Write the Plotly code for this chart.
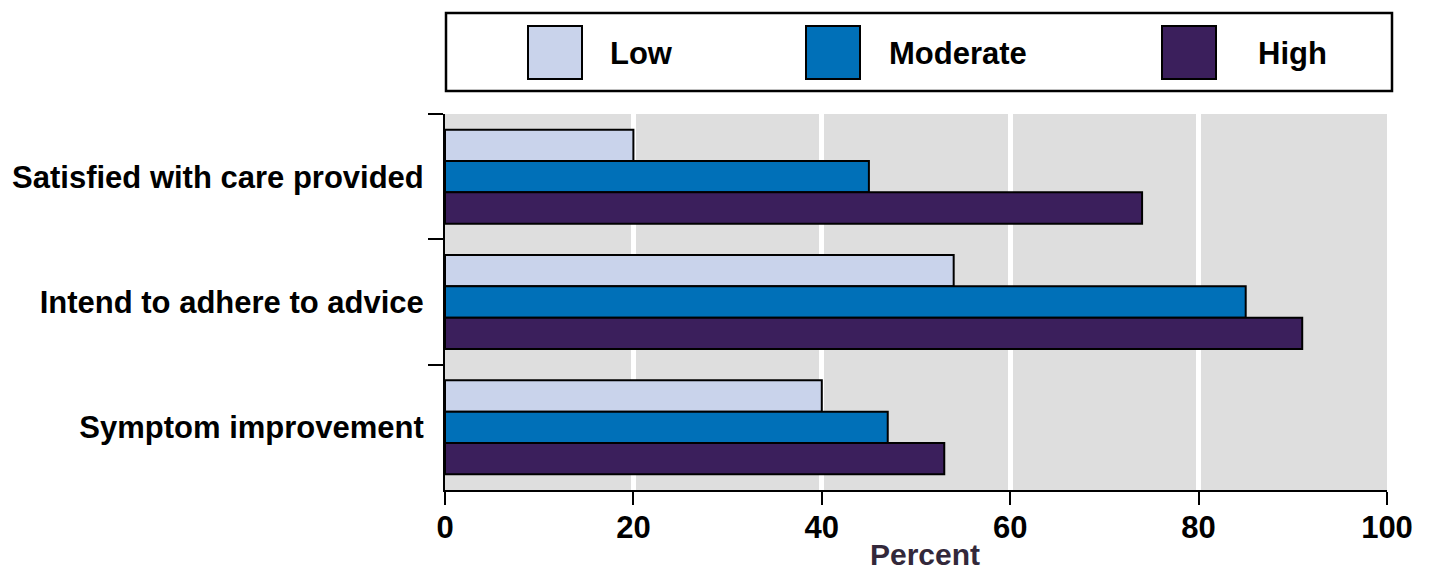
import plotly.graph_objects as go

# Outcome categories (top to bottom) and percent by level
categories = ["Satisfied with care provided", "Intend to adhere to advice", "Symptom improvement"]
levels = ["Low", "Moderate", "High"]
low_values = [20, 54, 40]
moderate_values = [45, 85, 47]
high_values = [74, 91, 53]
x_ticks = [0, 20, 40, 60, 80, 100]

colors = {"Low": "#C9D3EB", "Moderate": "#0070B8", "High": "#3B1F5C"}
series = {"Low": low_values, "Moderate": moderate_values, "High": high_values}

W, H = 1429, 573
PLOT_L, PLOT_R, PLOT_T, PLOT_B = 445, 1387, 114, 490
FONT = "Liberation Sans"


def px_x(px):
    return (px - PLOT_L) / (PLOT_R - PLOT_L)


def px_y(py):
    return (PLOT_B - py) / (PLOT_B - PLOT_T)


fig = go.Figure()
for name in levels:
    fig.add_trace(go.Bar(
        y=categories,
        x=series[name],
        name=name,
        orientation="h",
        marker=dict(color=colors[name], line=dict(color="#000000", width=2)),
        showlegend=False,
    ))

# Boxed legend drawn above the plot area
shapes = [dict(type="rect", xref="paper", yref="paper",
               x0=px_x(446), x1=px_x(1392), y0=px_y(91), y1=px_y(13),
               line=dict(color="#000000", width=2.5), fillcolor="white", layer="above")]
annotations = []
swatch_left = {"Low": 528, "Moderate": 806, "High": 1162}
text_left = {"Low": 608, "Moderate": 887, "High": 1256}
for name in levels:
    shapes.append(dict(type="rect", xref="paper", yref="paper",
                       x0=px_x(swatch_left[name]), x1=px_x(swatch_left[name] + 54),
                       y0=px_y(79), y1=px_y(26),
                       line=dict(color="#000000", width=2), fillcolor=colors[name],
                       layer="above"))
    annotations.append(dict(xref="paper", yref="paper", x=px_x(text_left[name]), y=px_y(53),
                            text=name, showarrow=False, xanchor="left", yanchor="middle",
                            font=dict(family=FONT, size=31, color="#000000", weight="bold")))

# Axis title placed just below the tick labels
annotations.append(dict(xref="paper", yref="paper", x=px_x(925), y=px_y(554),
                        text="Percent", showarrow=False, xanchor="center", yanchor="middle",
                        font=dict(family=FONT, size=30, color="#33283A", weight="bold")))

fig.update_layout(
    width=W, height=H,
    margin=dict(l=PLOT_L, r=W - PLOT_R, t=PLOT_T, b=H - PLOT_B),
    paper_bgcolor="white",
    plot_bgcolor="#DEDEDE",
    barmode="group",
    bargap=0.25,
    bargroupgap=0,
    shapes=shapes,
    annotations=annotations,
    font=dict(family=FONT, color="#000000"),
)

fig.update_xaxes(
    range=[0, 100],
    tickvals=x_ticks,
    ticktext=[str(v) for v in x_ticks],
    showgrid=True, gridcolor="white", gridwidth=5,
    zeroline=False,
    showline=True, linecolor="#000000", linewidth=2,
    ticks="outside", ticklen=13, tickwidth=1.5, tickcolor="#000000",
    tickfont=dict(family=FONT, size=31, color="#000000", weight="bold"),
    ticklabelstandoff=-4,
    automargin=False,
)

fig.update_yaxes(
    autorange="reversed",
    showgrid=False,
    showline=True, linecolor="#000000", linewidth=2,
    ticks="outside", tickson="boundaries", ticklen=15, tickwidth=1.5, tickcolor="#000000",
    tickfont=dict(family=FONT, size=31, color="#000000", weight="bold"),
    ticklabelstandoff=13,
    automargin=False,
)

fig.write_html("out.html")
